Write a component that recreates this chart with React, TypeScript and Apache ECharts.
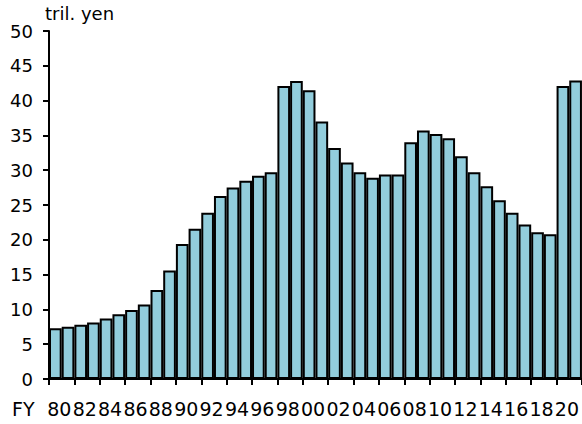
import React, { useEffect, useRef } from "react";
import * as echarts from "echarts";

const categories: string[] = [
  "80", "81", "82", "83", "84", "85", "86", "87", "88", "89",
  "90", "91", "92", "93", "94", "95", "96", "97", "98", "99",
  "00", "01", "02", "03", "04", "05", "06", "07", "08", "09",
  "10", "11", "12", "13", "14", "15", "16", "17", "18", "19",
  "20", "21",
];

const values: number[] = [
  7.3, 7.5, 7.8, 8.1, 8.7, 9.3, 9.9, 10.7, 12.8, 15.6,
  19.4, 21.6, 23.9, 26.3, 27.5, 28.5, 29.2, 29.7, 42.1, 42.8,
  41.5, 37.0, 33.2, 31.1, 29.7, 28.9, 29.4, 29.4, 34.0, 35.7,
  35.2, 34.6, 32.0, 29.7, 27.7, 25.7, 23.9, 22.2, 21.1, 20.8,
  42.1, 42.9,
];

const unitLabel = "tril. yen";
const xPrefix = "FY";

export default function App() {
  const ref = useRef<HTMLDivElement>(null);
  useEffect(() => {
    if (!ref.current) return;
    const chart = echarts.init(ref.current, null, { renderer: "svg" });
    const font = "DejaVu Sans";
    chart.setOption({
      animation: false,
      backgroundColor: "#ffffff",
      grid: { left: 49, right: 0, top: 31, bottom: 45, containLabel: false },
      xAxis: {
        type: "category",
        data: categories,
        boundaryGap: true,
        axisLine: { show: true, lineStyle: { color: "#000", width: 2 } },
        axisTick: { show: true, interval: 1, length: 6, lineStyle: { color: "#000", width: 2 } },
        axisLabel: {
          interval: 1,
          color: "#000",
          fontFamily: font,
          fontSize: 19,
          margin: 20,
          padding: [0, 0, 0, 8],
        },
        splitLine: { show: false },
      },
      yAxis: {
        type: "value",
        min: 0,
        max: 50,
        interval: 5,
        axisLine: { show: true, lineStyle: { color: "#000", width: 2 } },
        axisTick: { show: true, length: 6, lineStyle: { color: "#000", width: 2 } },
        axisLabel: { color: "#000", fontFamily: font, fontSize: 18, margin: 16 },
        splitLine: { show: false },
      },
      graphic: [
        {
          type: "text",
          left: 45,
          top: 4,
          style: { text: unitLabel, fontFamily: font, fontSize: 18, fill: "#000" },
        },
        {
          type: "text",
          left: 12,
          top: 399,
          style: { text: xPrefix, fontFamily: font, fontSize: 19, fill: "#000" },
        },
      ],
      series: [
        {
          type: "bar",
          data: values,
          barCategoryGap: "0%",
          itemStyle: { color: "#92CDDC", borderColor: "#000", borderWidth: 2 },
        },
      ],
    });
    return () => chart.dispose();
  }, []);
  return (
    <div
      ref={ref}
      style={{ position: "fixed", left: 0, top: 0, width: 582, height: 424 }}
    />
  );
}
